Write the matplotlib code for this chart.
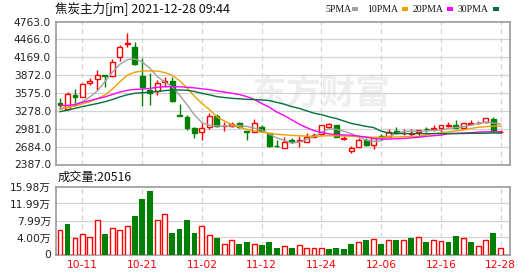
import matplotlib
matplotlib.use('Agg')
import matplotlib.pyplot as plt
from matplotlib.patches import Rectangle

# daily candles, 2021-09-29 .. 2021-12-28
opens = [3403, 3314, 3541, 3513, 3736, 3812, 3879, 3857, 4178, 4394,
         4334, 3857, 3625, 3613, 3757, 3774, 3205, 3181, 2988, 2922,
         3005, 3197, 3020, 3026, 3071, 2948, 2932, 3015, 2893, 2700,
         2655, 2794, 2772, 2760, 2848, 2893, 3005, 3043, 2805, 2616,
         2682, 2794, 2710, 2860, 2848, 2948, 2905, 2900, 2932, 2975,
         2971, 2998, 3035, 3043, 2988, 3054, 3071, 3093, 3138, 2925]
highs = [3487, 3596, 3636, 3736, 3819, 3957, 3879, 4135, 4372, 4567,
         4422, 4151, 3902, 3791, 3836, 3846, 3387, 3209, 3015, 3081,
         3247, 3226, 3098, 3098, 3098, 2948, 3138, 3043, 2905, 2794,
         2838, 2822, 2860, 2915, 2915, 3043, 3081, 3043, 2860, 2694,
         2822, 2822, 2822, 2893, 2971, 3005, 2971, 2971, 2960, 3015,
         3043, 3038, 3098, 3126, 3081, 3126, 3115, 3154, 3171, 2960]
lows = [3320, 3292, 3359, 3503, 3708, 3625, 3679, 3846, 4106, 4344,
        4040, 3359, 3375, 3541, 3679, 3430, 3185, 2960, 2822, 2794,
        2971, 3005, 2948, 3015, 2988, 2794, 2932, 2932, 2682, 2672,
        2655, 2748, 2672, 2760, 2838, 2877, 2988, 2838, 2794, 2582,
        2672, 2694, 2639, 2794, 2838, 2893, 2877, 2848, 2848, 2932,
        2948, 2932, 3015, 2988, 2971, 3043, 3060, 3071, 2932, 2915]
closes = [3370, 3553, 3513, 3719, 3774, 3869, 3862, 4095, 4344, 4411,
          4052, 3669, 3570, 3736, 3779, 3442, 3192, 2988, 2905, 2988,
          3197, 3026, 3030, 3064, 3015, 2932, 3071, 2948, 2694, 2694,
          2760, 2765, 2794, 2848, 2877, 3043, 3054, 2848, 2822, 2655,
          2794, 2710, 2822, 2848, 2932, 2905, 2915, 2910, 2960, 2971,
          2988, 3038, 3043, 2998, 3081, 3071, 3081, 3154, 2948, 2935]

ma5 = [3300, 3340, 3390, 3430, 3510, 3610, 3760, 3920, 4050, 4130,
       4140, 4090, 3990, 3850, 3760, 3680, 3540, 3380, 3210, 3080,
       3040, 3030, 3025, 3030, 3035, 3020, 2990, 2960, 2890, 2830,
       2790, 2745, 2760, 2800, 2850, 2920, 2980, 2970, 2940, 2900,
       2840, 2790, 2770, 2780, 2850, 2900, 2935, 2945, 2935, 2945,
       2955, 2960, 2985, 3000, 3015, 3040, 3070, 3090, 3075, 3060]
ma10 = [3320, 3335, 3360, 3395, 3430, 3480, 3540, 3640, 3760, 3870,
        3920, 3940, 3942, 3940, 3915, 3870, 3780, 3660, 3520, 3400,
        3300, 3180, 3110, 3050, 3010, 2970, 2945, 2925, 2910, 2890,
        2880, 2870, 2865, 2860, 2855, 2860, 2865, 2865, 2860, 2855,
        2850, 2845, 2840, 2840, 2842, 2845, 2850, 2850, 2855, 2880,
        2900, 2915, 2930, 2945, 2960, 2985, 3005, 3015, 3025, 3025]
ma20 = [3365, 3370, 3380, 3420, 3450, 3480, 3510, 3550, 3590, 3620,
        3635, 3640, 3650, 3670, 3680, 3680, 3678, 3670, 3660, 3645,
        3630, 3610, 3590, 3570, 3550, 3515, 3470, 3400, 3340, 3260,
        3200, 3130, 3060, 3000, 2950, 2920, 2895, 2885, 2878, 2875,
        2860, 2840, 2820, 2810, 2810, 2815, 2820, 2830, 2840, 2855,
        2865, 2875, 2900, 2905, 2910, 2915, 2925, 2930, 2930, 2932]
ma30 = [3265, 3290, 3320, 3350, 3375, 3400, 3430, 3465, 3510, 3545,
        3570, 3580, 3588, 3600, 3615, 3625, 3625, 3620, 3600, 3570,
        3545, 3515, 3500, 3487, 3478, 3470, 3465, 3460, 3450, 3420,
        3390, 3350, 3320, 3280, 3240, 3215, 3180, 3150, 3110, 3070,
        3045, 3020, 3000, 2940, 2910, 2905, 2900, 2900, 2900, 2900,
        2900, 2900, 2900, 2900, 2902, 2905, 2905, 2908, 2910, 2910]

# volume in 万 lots, and whether the bar is drawn red (up)
volumes = [5.68, 7.26, 3.95, 4.89, 4.10, 8.20, 4.89, 6.31, 5.84, 6.63,
           9.00, 12.94, 14.90, 8.20, 9.63, 5.13, 6.08, 8.20, 5.13, 6.63,
           4.65, 3.95, 2.52, 3.31, 2.37, 2.84, 2.52, 2.13, 2.84, 1.58,
           1.89, 1.58, 2.29, 1.58, 1.58, 1.58, 1.18, 1.58, 1.18, 2.37,
           2.84, 3.31, 3.71, 2.52, 3.47, 3.31, 3.47, 3.95, 4.18, 2.84,
           3.31, 3.08, 2.84, 4.26, 3.95, 2.84, 2.05, 3.31, 4.97, 1.58]
vol_up = "rgrrrrgrrrgggrrggggrrgrrggrgggrgrrrrggggrgrgrgrgrgrrggrgrrgr"

price_ticks = [2387, 2684, 2981, 3278, 3575, 3872, 4169, 4466, 4763]
vol_ticks = [0, 4.00, 7.99, 11.99, 15.98]
date_pos = [3, 11, 19, 27, 35, 43, 51, 59]
date_labels = ['10-11', '10-21', '11-02', '11-12', '11-24', '12-06', '12-16', '12-28']

RED = '#ff0000'
GREEN = '#008000'
FRAME = '#999999'
GRID = '#d3d3d3'
ma_colors = ['#a0a0a0', '#f0a000', '#ff00ff', '#00703c']

fig = plt.figure(figsize=(5.30, 2.76), dpi=100)
ax = fig.add_axes([56 / 530, 1 - 164.5 / 276, 454 / 530, 143 / 276])
axv = fig.add_axes([56 / 530, 1 - 254.5 / 276, 454 / 530, 68 / 276])

xlim = (-0.54, 60.24)
for a in (ax, axv):
    a.set_xlim(*xlim)
    for s in a.spines.values():
        s.set_color(FRAME)
        s.set_linewidth(1.2)
    a.set_xticks(date_pos)
    a.tick_params(length=0)
    for xp in date_pos:
        a.axvline(xp, color=GRID, lw=0.9, ls=(0, (4, 3)), zorder=0)

# watermark
ax.text(35.0, 3570, '东方财富', fontsize=25, fontweight='bold', style='italic',
        color='#eeeeee', ha='center', va='center', zorder=0,
        family=['Noto Sans CJK SC'])

# price panel
ax.set_ylim(price_ticks[0], price_ticks[-1])
ax.set_yticks(price_ticks)
ax.set_yticklabels([f'{v:.1f}' for v in price_ticks], fontsize=7.7, color='#222222')
for v in price_ticks[1:-1]:
    ax.axhline(v, color=GRID, lw=0.9, zorder=0)
ax.set_xticklabels([])

w = 0.66
for i in range(len(opens)):
    o, h, l, c = opens[i], highs[i], lows[i], closes[i]
    col = RED if c >= o else GREEN
    ax.vlines(i, l, h, color=col, lw=1, zorder=2)
    bottom = min(o, c)
    height = max(abs(c - o), 6)
    face = 'white' if c >= o else GREEN
    ax.add_patch(Rectangle((i - w / 2, bottom), w, height, facecolor=face,
                           edgecolor=col, lw=1, zorder=3))

xs = list(range(len(opens)))
for ma, col in zip([ma5, ma10, ma20, ma30], ma_colors):
    ax.plot(xs, ma, color=col, lw=1, zorder=4)

# volume panel
axv.set_ylim(0, vol_ticks[-1])
axv.set_yticks(vol_ticks)
axv.set_yticklabels(['0'] + [f'{v:.2f}万' for v in vol_ticks[1:]], fontsize=7.7,
                    color='#222222', family=['DejaVu Sans', 'Noto Sans CJK SC'])
for v in vol_ticks[1:-1]:
    axv.axhline(v, color=GRID, lw=0.9, zorder=0)
for i, v in enumerate(volumes):
    if vol_up[i] == 'r':
        axv.add_patch(Rectangle((i - w / 2, 0), w, v, facecolor='white',
                                edgecolor=RED, lw=1, zorder=3))
    else:
        axv.bar(i, v, width=w + 0.12, color=GREEN, zorder=3)
axv.set_xticklabels(date_labels, fontsize=7.7, color=RED)
axv.tick_params(axis='x', pad=4)

# header texts
fig.text(55 / 530, 1 - 9 / 276, '焦炭主力[jm] 2021-12-28 09:44', fontsize=9.0,
         va='center', ha='left', color='#111111', family=['Noto Sans CJK SC'])
fig.text(58 / 530, 1 - 177.5 / 276, '成交量:20516', fontsize=8.8,
         va='center', ha='left', color='#111111', family=['Noto Sans CJK SC'])

# legend: name followed by a short coloured dash
legend_items = [('5PMA', 325, 352), ('10PMA', 367, 402),
                ('20PMA', 413, 447), ('30PMA', 458, 493)]
for (name, x0, dash_x), col in zip(legend_items, ma_colors):
    fig.text(x0 / 530, 1 - 9 / 276, name, fontsize=7.0, va='center', ha='left',
             color='#111111', family=['Liberation Serif'])
    fig.patches.append(Rectangle((dash_x / 530, 1 - 10.5 / 276), 6 / 530, 3 / 276,
                                 transform=fig.transFigure, facecolor=col,
                                 edgecolor='none'))

fig.savefig('out.png', dpi=100)
